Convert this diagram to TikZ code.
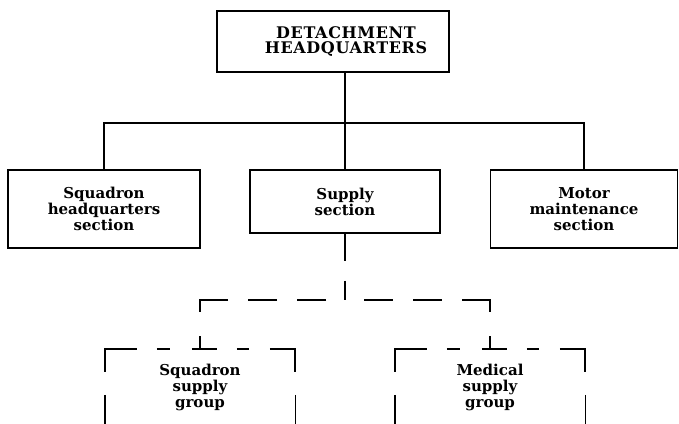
\documentclass[tikz,border=0pt]{standalone}
\usepackage{fontspec}
\setmainfont{DejaVu Serif}
\newfontfamily\headfont{DejaVu Serif}[LetterSpace=4]
\usetikzlibrary{calc}

\begin{document}
\begin{tikzpicture}[x=1pt,y=-1pt,
    unit/.style={draw,line width=1.5pt,align=center,inner sep=0pt,
      font=\bfseries\fontsize{15}{16}\selectfont},
    grp/.style={align=center,inner sep=0pt,minimum width=190,minimum height=76,
      font=\bfseries\fontsize{15}{16}\selectfont},
    link/.style={line width=1.4pt},
    dashlink/.style={line width=1.5pt,
      dash pattern=on 29pt off 20pt on 29pt off 20pt on 40pt off 24pt on 20pt off 19pt,
      dash phase=182pt},
    grpline/.style={line width=1.6pt,
      dash pattern=on 55pt off 20pt on 13pt off 22pt on 25pt off 20pt on 12pt off 21pt on 60pt off 10pt}]
  \useasboundingbox (0,0) rectangle (679,423);
  \clip (0,0) rectangle (679,423);
  % units
  \node[unit,minimum width=232,minimum height=61,font=\headfont\bfseries\fontsize{16}{15.5}\selectfont] (hq) at (333,41.5) {\hspace*{26pt}DETACHMENT\\\hspace*{26pt}HEADQUARTERS};
  \node[unit,minimum width=192,minimum height=78] (sqhq) at (104,209) {Squadron\\headquarters\\section};
  \node[unit,minimum width=190,minimum height=63] (sup) at (345,201.5) {Supply\\section};
  \node[unit,minimum width=187,minimum height=78] (mot) at (584,209) {Motor\\maintenance\\section};
  \node[grp] (sqg) at (200,387) {Squadron\\supply\\group};
  \node[grp] (medg) at (490,387) {Medical\\supply\\group};
  % solid links
  \coordinate (hqbus) at (345,123);
  \draw[link] (hq.south -| hqbus) -- (hqbus);
  \draw[link] (sqhq.north) -- (sqhq.north |- hqbus) -- (mot.north |- hqbus) -- (mot.north);
  \draw[link] (hqbus) -- (sup.north);
  % dashed links
  \coordinate (supbus) at (345,300);
  \draw[link,dash pattern=on 27pt off 20pt] (sup.south) -- (supbus);
  \draw[dashlink] (supbus) -| (sqg.north);
  \draw[dashlink] (supbus) -| (medg.north);
  \foreach \g in {sqg,medg} {
    \draw[grpline] ([yshift=-23pt]\g.north west) -- (\g.north west) -- (\g.north east) -- ([yshift=-23pt]\g.north east);
    \draw[link] ([yshift=-46pt]\g.north west) -- (\g.south west);
    \draw[link] ([yshift=-46pt]\g.north east) -- (\g.south east);
  }
\end{tikzpicture}
\end{document}
